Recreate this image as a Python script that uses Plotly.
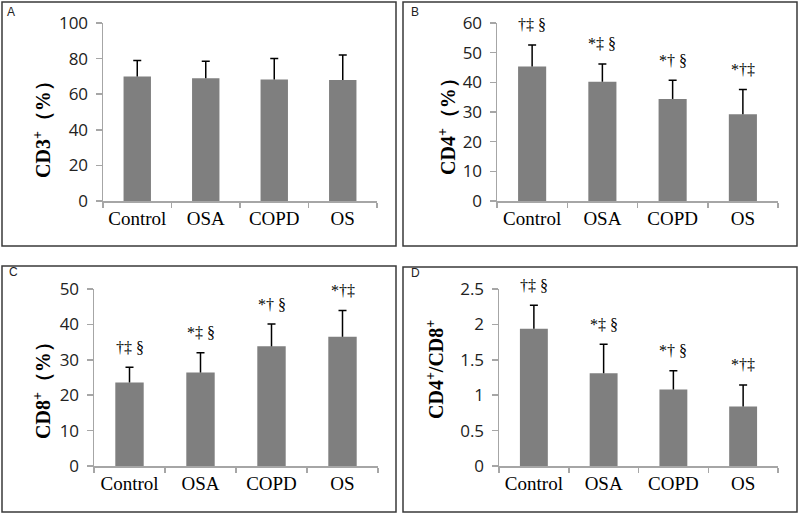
import plotly.graph_objects as go

# ---------------- data ----------------
categories = ["Control", "OSA", "COPD", "OS"]

cd3_mean = [70.0, 69.0, 68.3, 68.0]
cd3_upper = [79.0, 78.5, 80.0, 82.0]      # mean + SD (top of error bar)

cd4_mean = [45.3, 40.2, 34.4, 29.2]
cd4_upper = [52.6, 46.2, 40.7, 37.6]

cd8_mean = [23.6, 26.4, 33.8, 36.5]
cd8_upper = [27.9, 32.0, 40.1, 43.9]

ratio_mean = [1.94, 1.31, 1.08, 0.84]
ratio_upper = [2.27, 1.72, 1.345, 1.145]

sig_labels = ["†‡ §", "*‡ §", "*† §", "*†‡"]

panel_letters = ["A", "B", "C", "D"]
panel_titles = ["CD3<sup>+</sup>（%）", "CD4<sup>+</sup>（%）",
                "CD8<sup>+</sup>（%）", "CD4<sup>+</sup>/CD8<sup>+</sup>"]
y_ranges = [[0, 100], [0, 60], [0, 50], [0, 2.5]]
y_dticks = [20, 10, 10, 0.5]
show_sig = [False, True, True, True]

means = [cd3_mean, cd4_mean, cd8_mean, ratio_mean]
uppers = [cd3_upper, cd4_upper, cd8_upper, ratio_upper]

# ---------------- layout geometry (pixels) ----------------
W, H = 800, 514
plot_px = [  # x0, x1, ytop, ybottom
    (103, 377, 23, 201),
    (497, 778, 23, 201),
    (94, 378, 289, 466),
    (499, 778, 289, 466),
]
box_px = [  # x0, x1, ytop, ybottom
    (2, 396, 2, 246),
    (403, 797, 2, 246),
    (2, 396, 266, 512),
    (403, 797, 267, 512),
]
letter_px = [(11, 12), (415, 12), (13, 272), (415, 273)]
title_px = [(42, 125), (447, 122), (42, 386), (435, 369)]

BAR_COLOR = "#7f7f7f"
AXIS_COLOR = "#a6a6a6"

fig = go.Figure()
annotations = []
shapes = []
layout_axes = {}

for i in range(4):
    n = i + 1
    xa = "x" if n == 1 else f"x{n}"
    ya = "y" if n == 1 else f"y{n}"
    m = means[i]
    u = uppers[i]
    err = [uu - mm for uu, mm in zip(u, m)]

    # bars with upward error line (no caps)
    fig.add_trace(go.Bar(
        x=categories, y=m, xaxis=xa, yaxis=ya,
        marker=dict(color=BAR_COLOR, line=dict(width=0)),
        width=0.4,
        error_y=dict(type="data", symmetric=False, array=err,
                     arrayminus=[0] * len(m), width=0,
                     thickness=1.5, color="black"),
        hoverinfo="skip", showlegend=False,
    ))
    # caps at the top of each error bar
    fig.add_trace(go.Scatter(
        x=categories, y=u, xaxis=xa, yaxis=ya, mode="markers",
        marker=dict(size=1, opacity=0),
        error_y=dict(type="data", array=[0] * len(u), width=4,
                     thickness=1.5, color="black"),
        hoverinfo="skip", showlegend=False,
    ))

    x0, x1, yt, yb = plot_px[i]
    layout_axes["xaxis" if n == 1 else f"xaxis{n}"] = dict(
        domain=[x0 / W, x1 / W], anchor=ya, type="category",
        range=[-0.5, len(categories) - 0.5], automargin=False,
        tickson="boundaries", ticks="outside", ticklen=5,
        tickcolor=AXIS_COLOR, tickwidth=1.5,
        showline=True, linecolor=AXIS_COLOR, linewidth=1.5,
        showgrid=False, zeroline=False,
        tickfont=dict(family="Liberation Serif", size=19, color="black"),
    )
    layout_axes["yaxis" if n == 1 else f"yaxis{n}"] = dict(
        domain=[1 - yb / H, 1 - yt / H], anchor=xa, automargin=False,
        range=y_ranges[i], dtick=y_dticks[i], tick0=0,
        ticks="outside", ticklen=6, tickcolor=AXIS_COLOR, tickwidth=1.5,
        showline=True, linecolor=AXIS_COLOR, linewidth=1.5,
        showgrid=False, zeroline=False,
        ticklabelstandoff=4,
        tickfont=dict(family="Open Sans", size=17, color="#222222"),
    )

    # panel box
    bx0, bx1, byt, byb = box_px[i]
    shapes.append(dict(type="rect", xref="paper", yref="paper",
                       x0=bx0 / W, x1=bx1 / W, y0=1 - byb / H, y1=1 - byt / H,
                       line=dict(color="#3a3a3a", width=1.5)))

    # panel letter
    lx, ly = letter_px[i]
    annotations.append(dict(text=panel_letters[i], xref="paper", yref="paper",
                            x=lx / W, y=1 - ly / H, showarrow=False,
                            xanchor="center", yanchor="middle",
                            font=dict(family="Liberation Sans", size=12, color="#222222")))
    # y-axis title
    tx, ty = title_px[i]
    annotations.append(dict(text=panel_titles[i], xref="paper", yref="paper",
                            x=tx / W, y=1 - ty / H, showarrow=False, textangle=-90,
                            xanchor="center", yanchor="middle",
                            font=dict(family="Liberation Serif", size=20, color="black",
                                      weight="bold")))
    # significance marks
    if show_sig[i]:
        for c, top, lab in zip(categories, u, sig_labels):
            annotations.append(dict(text=lab, xref=xa, yref=ya, x=c, y=top,
                                    yshift=20, showarrow=False,
                                    xanchor="center", yanchor="middle",
                                    font=dict(family="Liberation Serif", size=16,
                                              color="#000000")))

fig.update_layout(
    template="none",
    width=W, height=H, autosize=False,
    margin=dict(l=0, r=0, t=0, b=0, pad=0, autoexpand=False),
    paper_bgcolor="white", plot_bgcolor="white",
    showlegend=False, bargap=0.6,
    annotations=annotations, shapes=shapes,
    **layout_axes,
)

fig.write_html("out.html", include_plotlyjs=True, full_html=True,
               config={"displayModeBar": False, "staticPlot": True},
               post_script="document.body.style.margin='0px';")
